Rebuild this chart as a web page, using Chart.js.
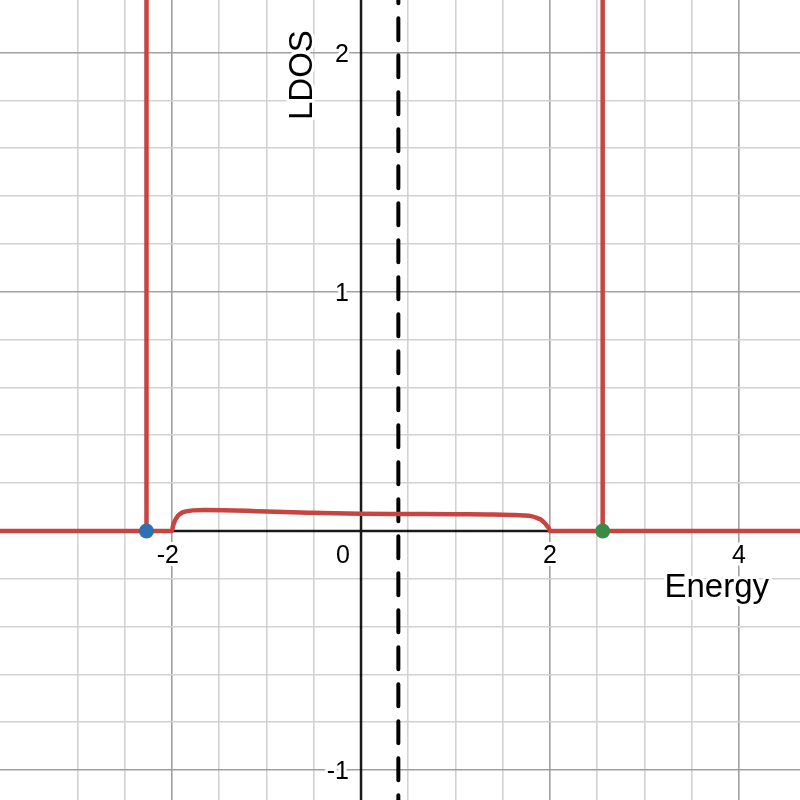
<!DOCTYPE html>
<html>
<head>
<meta charset="utf-8">
<script src="https://cdn.jsdelivr.net/npm/chart.js@4.4.1/dist/chart.umd.min.js"></script>
<style>
  html, body { margin: 0; padding: 0; background: #fff; }
  #wrap { width: 800px; height: 800px; }
</style>
</head>
<body>
<div id="wrap"><canvas id="ldosChart"></canvas></div>
<script>
// view window (energy, LDOS)
const xRange = [-3.82, 4.645];
const yRange = [-1.125, 2.22];
const xGridSteps = [0.5, 2];   // minor, major
const yGridSteps = [0.2, 1];
const xTickLabels = [-2, 2, 4];
const yTickLabels = [-1, 1, 2];

// continuum part of the LDOS inside the band
const bandEnergy = [-2, -1.99, -1.97, -1.94, -1.9, -1.85, -1.78, -1.65, -1.45, -1.2, -1.0, -0.5, 0, 0.5, 1.0, 1.4, 1.6, 1.72, 1.8, 1.86, 1.9, 1.94, 1.97, 1.99, 2];
const bandLdos   = [0, 0.02, 0.042, 0.062, 0.075, 0.082, 0.086, 0.088, 0.087, 0.084, 0.081, 0.076, 0.072, 0.071, 0.070, 0.069, 0.067, 0.065, 0.062, 0.055, 0.048, 0.034, 0.02, 0.009, 0];

// bound states (delta peaks) and the dashed marker
const boundStates = [-2.27, 2.557];
const boundColors = ["#2d70b3", "#388c46"];
const markerEnergy = 0.395;

const RED = "#c74440";

function onStep(v, step) {
  const r = v / step;
  return Math.abs(r - Math.round(r)) < 1e-6;
}

function gridColor(steps) {
  return (ctx) => {
    const v = ctx.tick.value;
    if (Math.abs(v) < 1e-9) return "rgba(0,0,0,0)";
    if (onStep(v, steps[1])) return "#a0a0a0";
    if (onStep(v, steps[0])) return "#d2d2d2";
    return "rgba(0,0,0,0)";
  };
}

const ldosCurve = [{ x: xRange[0], y: 0 }]
  .concat(bandEnergy.map((e, i) => ({ x: e, y: bandLdos[i] })))
  .concat([{ x: xRange[1], y: 0 }]);

const spikeSets = boundStates.map((e) => ({
  data: [{ x: e, y: 0 }, { x: e, y: yRange[1] + 1 }],
  showLine: true,
  borderColor: RED,
  borderWidth: 4.5,
  pointRadius: 0
}));

const axesPlugin = {
  id: "axesPlugin",
  beforeDatasetsDraw(chart) {
    const { ctx, chartArea, scales } = chart;
    const x0 = scales.x.getPixelForValue(0);
    const y0 = scales.y.getPixelForValue(0);
    ctx.save();
    ctx.strokeStyle = "rgba(0,0,0,0.9)";
    ctx.lineWidth = 2.5;
    ctx.beginPath();
    ctx.moveTo(chartArea.left, y0);
    ctx.lineTo(chartArea.right, y0);
    ctx.moveTo(x0, chartArea.top);
    ctx.lineTo(x0, chartArea.bottom);
    ctx.stroke();
    ctx.restore();
  },
  afterDatasetsDraw(chart) {
    const { ctx, chartArea, scales } = chart;
    const x0 = scales.x.getPixelForValue(0);
    const y0 = scales.y.getPixelForValue(0);

    const label = (text, x, y, align) => {
      ctx.textAlign = align;
      ctx.strokeText(text, x, y);
      ctx.fillText(text, x, y);
    };

    ctx.save();
    ctx.fillStyle = "#000";
    ctx.strokeStyle = "#fff";
    ctx.lineWidth = 6;
    ctx.lineJoin = "round";
    ctx.textBaseline = "alphabetic";
    ctx.font = "25px 'Liberation Sans', Arial, sans-serif";
    const minusW = ctx.measureText("-").width;

    xTickLabels.forEach((v) => {
      let px = scales.x.getPixelForValue(v);
      if (v < 0) px -= minusW / 2;
      label(String(v), px, y0 + 32, "center");
    });
    label("0", x0 - 11, y0 + 32, "right");

    yTickLabels.forEach((v) => {
      label(String(v), x0 - 12, scales.y.getPixelForValue(v) + 9, "right");
    });

    ctx.font = "33px 'Liberation Sans', Arial, sans-serif";
    label("Energy", chartArea.right - 31, y0 + 66, "right");

    ctx.translate(x0 - 49, chartArea.top + 120);
    ctx.rotate(-Math.PI / 2);
    label("LDOS", 0, 0, "left");
    ctx.restore();
  }
};

new Chart(document.getElementById("ldosChart"), {
  type: "scatter",
  data: {
    datasets: [
      {
        data: boundStates.map((e) => ({ x: e, y: 0 })),
        pointRadius: 7.5,
        pointHoverRadius: 7.5,
        pointBackgroundColor: boundColors,
        pointBorderWidth: 0
      },
      {
        data: ldosCurve,
        showLine: true,
        borderColor: RED,
        borderWidth: 4.5,
        pointRadius: 0,
        cubicInterpolationMode: "monotone"
      },
      ...spikeSets,
      {
        data: [{ x: markerEnergy, y: yRange[0] - 1 }, { x: markerEnergy, y: yRange[1] + 1 }],
        showLine: true,
        borderColor: "#000",
        borderWidth: 4,
        borderDash: [22, 15],
        borderCapStyle: "round",
        pointRadius: 0
      }
    ]
  },
  options: {
    responsive: true,
    maintainAspectRatio: false,
    animation: false,
    events: [],
    layout: { padding: 0, autoPadding: false },
    plugins: { legend: { display: false }, tooltip: { enabled: false } },
    scales: {
      x: {
        type: "linear",
        min: xRange[0],
        max: xRange[1],
        ticks: { display: false, stepSize: xGridSteps[0], autoSkip: false },
        grid: { color: gridColor(xGridSteps), lineWidth: 1.6, drawTicks: false },
        border: { display: false }
      },
      y: {
        type: "linear",
        min: yRange[0],
        max: yRange[1],
        ticks: { display: false, stepSize: yGridSteps[0], autoSkip: false },
        grid: { color: gridColor(yGridSteps), lineWidth: 1.6, drawTicks: false },
        border: { display: false }
      }
    }
  },
  plugins: [axesPlugin]
});
</script>
</body>
</html>
